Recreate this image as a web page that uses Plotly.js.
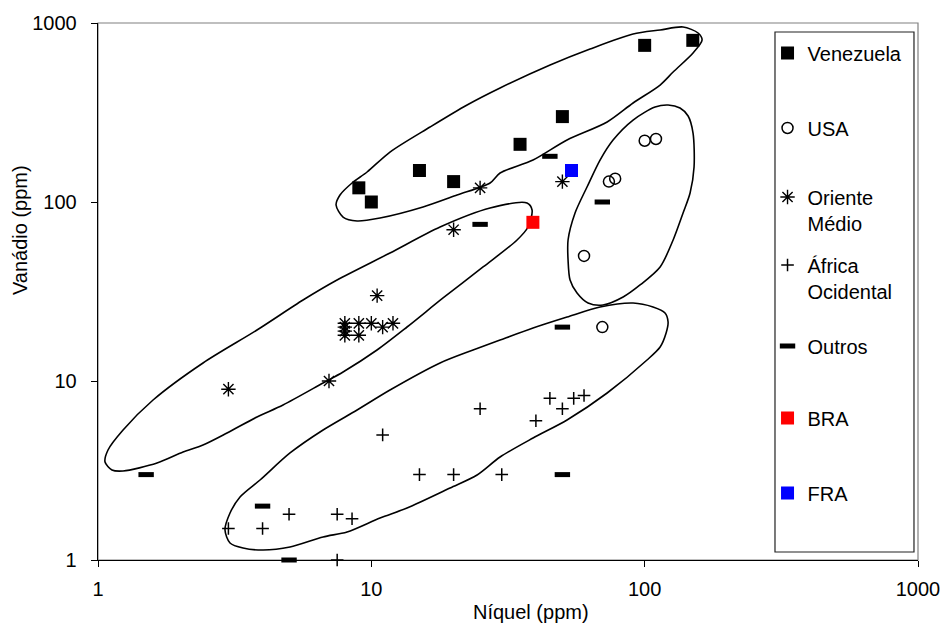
<!DOCTYPE html>
<html>
<head>
<meta charset="utf-8">
<script src="https://cdn.plot.ly/plotly-3.0.1.min.js"></script>
<style>html,body{margin:0;padding:0;background:#fff;}#chart{width:943px;height:628px;}</style>
</head>
<body>
<div id="chart"></div>
<script>
// ---- tick labels ----
const tickValues = [1, 10, 100, 1000];
const tickLabels = ['1', '10', '100', '1000'];

// ---- series ----
const seriesNames = ['Venezuela', 'USA', 'Oriente<br>Médio', 'África<br>Ocidental', 'Outros', 'BRA', 'FRA'];

const venezuelaNi = [9, 10, 15, 20, 35, 50, 100, 150];
const venezuelaV  = [120, 100, 150, 130, 210, 300, 750, 800];

const usaNi = [100, 110, 74, 78, 60, 70];
const usaV  = [220, 225, 130, 135, 50, 20];

const orienteNi = [25, 20, 50, 10.5, 8, 8, 8, 8, 9, 9, 10, 11, 12, 3, 7];
const orienteV  = [120, 70, 130, 30, 18, 19, 20, 21, 21, 18, 21, 20, 21, 9, 10];

const africaNi = [3, 4, 5, 7.5, 8.5, 7.5, 11, 15, 20, 30, 25, 40, 45, 50, 55, 60];
const africaV  = [1.5, 1.5, 1.8, 1.8, 1.7, 1, 5, 3, 3, 3, 7, 6, 8, 7, 8, 8.3];

const outrosNi = [25, 45, 70, 1.5, 4, 5, 50, 50];
const outrosV  = [75, 180, 100, 3, 2, 1, 20, 3];

const braNi = [39];
const braV  = [77];

const fraNi = [54];
const fraV  = [150];

// ---- hand-drawn group outlines (data space, ppm) ----
const outlineVenezuelaNi = [7.43, 7.68, 8.50, 9.65, 11.7, 16.4, 22.4, 29.58, 45.08, 63.13, 90.7, 113.9, 138.2, 156.8, 162.2, 150.3, 127.1, 113.9, 90.7, 72.9, 52.0, 39.05, 29.58, 27.19, 20.59, 15.46, 10.76, 8.87, 7.88, 7.43];
const outlineVenezuelaV  = [96.2, 109.4, 127.7, 147.1, 190.2, 262.4, 348.3, 433.5, 582.7, 715.6, 867.8, 913.9, 950.0, 879.4, 803.6, 679.9, 532.4, 450.4, 357.4, 279.9, 222.0, 171.6, 145.2, 127.7, 109.4, 93.8, 81.4, 78.3, 82.4, 96.2];

const outlineOrienteNi = [1.061, 1.088, 1.235, 1.59, 2.422, 3.817, 5.625, 7.49, 11.7, 17.84, 27.19, 37.12, 38.73, 37.44, 34.13, 25.63, 18.3, 13.51, 10.49, 7.88, 6.66, 4.753, 3.817, 2.965, 2.422, 2.047, 1.644, 1.235, 1.125, 1.061];
const outlineOrienteV  = [3.527, 4.117, 5.324, 7.832, 12.61, 19.27, 28.35, 36.67, 51.89, 72.5, 92.57, 98.73, 90.23, 72.5, 61.34, 43.35, 29.09, 20.03, 14.9, 11.23, 9.745, 7.343, 6.294, 5.123, 4.39, 4.012, 3.482, 3.142, 3.183, 3.527];

const outlineUsaNi = [109.2, 121.8, 134.7, 144.2, 150.3, 151.6, 146.6, 138.2, 127.1, 113.9, 96.2, 83.4, 70.43, 62.08, 56.57, 53.34, 52.45, 52.45, 55.63, 61.53, 68.67, 76.63, 90.7, 109.2];
const outlineUsaV  = [339.4, 348.3, 335.1, 302.2, 242.9, 156.9, 112.3, 86.8, 61.34, 43.35, 34.39, 29.46, 26.58, 27.28, 31.01, 36.67, 47.43, 61.34, 86.8, 121.3, 171.6, 222.0, 287.1, 339.4];

const outlineAfricaNi = [2.915, 3.041, 3.308, 3.915, 5.041, 6.66, 8.87, 11.7, 17.84, 23.56, 29.58, 39.05, 52.0, 68.67, 90.7, 107.3, 118.7, 121.8, 119.8, 113.9, 102.0, 72.9, 52.0, 39.05, 29.58, 24.37, 19.41, 13.51, 10.76, 8.15, 6.66, 5.041, 4.016, 3.394, 3.041, 2.915];
const outlineAfricaV  = [1.471, 1.83, 2.249, 2.798, 3.961, 5.324, 6.887, 8.906, 12.61, 14.9, 16.95, 19.78, 22.78, 25.91, 27.28, 25.91, 23.99, 21.36, 18.54, 15.48, 13.1, 8.57, 6.055, 4.803, 3.762, 2.985, 2.525, 1.952, 1.717, 1.434, 1.345, 1.182, 1.137, 1.167, 1.245, 1.471];

const FONT = 'Arial, "Liberation Sans", sans-serif';

function outline(xs, ys) {
  return {
    x: xs, y: ys, type: 'scatter', mode: 'lines',
    line: {color: '#000', width: 1.6, shape: 'spline', smoothing: 0.8},
    showlegend: false, hoverinfo: 'skip', cliponaxis: false
  };
}

const traces = [
  outline(outlineVenezuelaNi, outlineVenezuelaV),
  outline(outlineOrienteNi, outlineOrienteV),
  outline(outlineUsaNi, outlineUsaV),
  outline(outlineAfricaNi, outlineAfricaV),
  {x: venezuelaNi, y: venezuelaV, name: seriesNames[0], type: 'scatter', mode: 'markers', legend: 'legend',
   marker: {symbol: 'square', size: 13, color: '#000'}, cliponaxis: false},
  {x: usaNi, y: usaV, name: seriesNames[1], type: 'scatter', mode: 'markers', legend: 'legend2',
   marker: {symbol: 'circle-open', size: 11, color: '#000', line: {width: 1.5, color: '#000'}}, cliponaxis: false},
  {x: orienteNi, y: orienteV, name: seriesNames[2], type: 'scatter', mode: 'markers', legend: 'legend3',
   marker: {symbol: 'asterisk-open', size: 12, color: '#000', line: {width: 1.4, color: '#000'}}, cliponaxis: false},
  {x: africaNi, y: africaV, name: seriesNames[3], type: 'scatter', mode: 'markers', legend: 'legend4',
   marker: {symbol: 'cross-thin-open', size: 9, color: '#000', line: {width: 1.5, color: '#000'}}, cliponaxis: false},
  {x: outrosNi, y: outrosV, name: seriesNames[4], type: 'scatter', mode: 'markers', legend: 'legend5',
   marker: {symbol: 'line-ew-open', size: 11, color: '#000', line: {width: 5, color: '#000'}}, cliponaxis: false},
  {x: braNi, y: braV, name: seriesNames[5], type: 'scatter', mode: 'markers', legend: 'legend6',
   marker: {symbol: 'square', size: 13, color: '#FF0000'}, cliponaxis: false},
  {x: fraNi, y: fraV, name: seriesNames[6], type: 'scatter', mode: 'markers', legend: 'legend7',
   marker: {symbol: 'square', size: 13, color: '#0000FF'}, cliponaxis: false}
];

function leg(yc) {
  return {x: 0.8165, xanchor: 'left', y: yc, yanchor: 'middle', bgcolor: 'rgba(0,0,0,0)',
          borderwidth: 0, valign: 'top', font: {family: FONT, size: 20, color: '#000'}};
}

const layout = {
  width: 943, height: 628,
  margin: {l: 98, r: 25, t: 23, b: 68, pad: 0},
  paper_bgcolor: '#fff', plot_bgcolor: '#fff',
  font: {family: FONT, size: 20, color: '#000'},
  xaxis: {
    type: 'log', range: [0, 3], tickvals: tickValues, ticktext: tickLabels,
    showgrid: false, zeroline: false, showline: true, linecolor: '#000', linewidth: 1.3,
    ticks: 'outside', ticklen: 6, tickcolor: '#000', tickwidth: 1, ticklabelstandoff: 5,
    tickfont: {family: FONT, size: 20, color: '#000'}
  },
  yaxis: {
    type: 'log', range: [0, 3], tickvals: tickValues, ticktext: tickLabels,
    showgrid: false, zeroline: false, showline: true, linecolor: '#000', linewidth: 1.3,
    ticks: 'outside', ticklen: 6, tickcolor: '#000', tickwidth: 1, ticklabelstandoff: 10,
    tickfont: {family: FONT, size: 20, color: '#000'}
  },
  showlegend: true,
  legend: leg(0.9441),
  legend2: leg(0.8045),
  legend3: leg(0.6518),
  legend4: leg(0.5251),
  legend5: leg(0.3985),
  legend6: leg(0.2644),
  legend7: leg(0.1248),
  shapes: [
    {type: 'rect', xref: 'paper', yref: 'paper', x0: 0, x1: 1, y0: 0, y1: 1,
     line: {color: '#808080', width: 1.2}, layer: 'below'},
    {type: 'rect', xref: 'paper', yref: 'paper', x0: 0.8256, x1: 0.9951, y0: 0.0149, y1: 0.9832,
     line: {color: '#222', width: 1.2}, fillcolor: 'rgba(0,0,0,0)', layer: 'below'}
  ],
  annotations: [
    {text: 'Níquel (ppm)', xref: 'paper', yref: 'paper', x: 0.528, y: -0.0968,
     xanchor: 'center', yanchor: 'middle', showarrow: false, font: {family: FONT, size: 20, color: '#000'}},
    {text: 'Vanádio (ppm)', xref: 'paper', yref: 'paper', x: -0.0951, y: 0.6145, textangle: -90,
     xanchor: 'center', yanchor: 'middle', showarrow: false, font: {family: FONT, size: 20, color: '#000'}}
  ]
};

Plotly.newPlot('chart', traces, layout, {displayModeBar: false, staticPlot: true});
</script>
</body>
</html>
